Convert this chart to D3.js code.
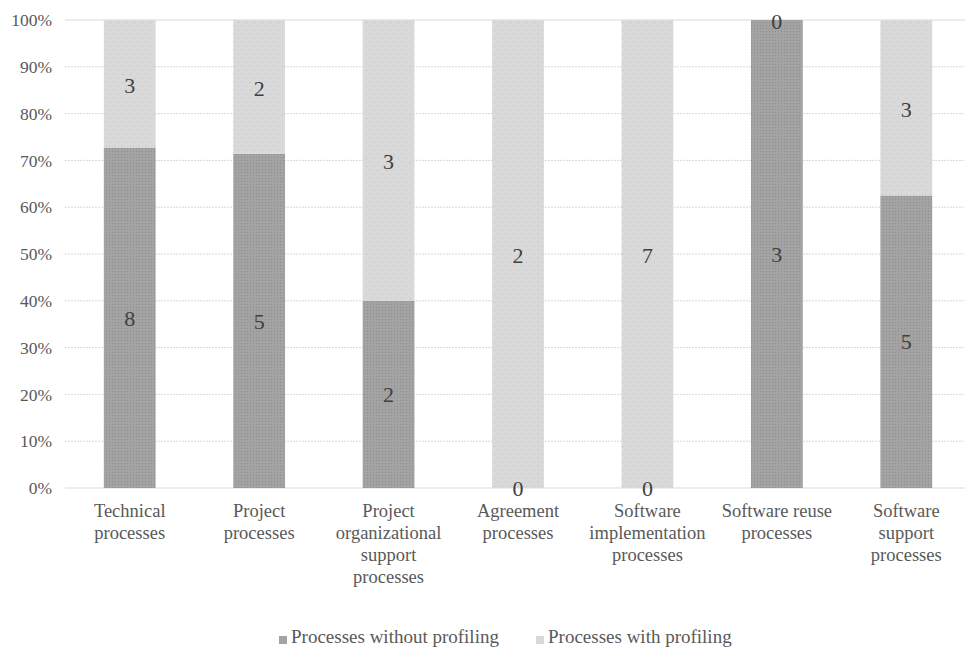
<!DOCTYPE html>
<html><head><meta charset="utf-8">
<script src="https://cdn.jsdelivr.net/npm/d3@7"></script>
<style>body{margin:0;background:#fff}svg{display:block}</style>
</head><body>
<svg id="c" width="965" height="650"></svg>
<script>
const categories = [
  ["Technical","processes"],
  ["Project","processes"],
  ["Project","organizational","support","processes"],
  ["Agreement","processes"],
  ["Software","implementation","processes"],
  ["Software reuse","processes"],
  ["Software","support","processes"]
];
const seriesNames = ["Processes without profiling","Processes with profiling"];
const withoutProfiling = [8,5,2,0,0,3,5];
const withProfiling = [3,2,3,2,7,0,3];
const yTicks = [0,0.1,0.2,0.3,0.4,0.5,0.6,0.7,0.8,0.9,1];

(function(){
const FONT = '"Liberation Serif", "Times New Roman", serif';
const svg = d3.select("#c");
const defs = svg.append("defs");
const p1 = defs.append("pattern").attr("id","pDark").attr("width",3).attr("height",3).attr("patternUnits","userSpaceOnUse");
p1.append("rect").attr("width",3).attr("height",3).attr("fill","#a3a3a3");
p1.append("rect").attr("x",1).attr("y",1).attr("width",1).attr("height",1).attr("fill","#8f8f8f");
const p2 = defs.append("pattern").attr("id","pLight").attr("width",8).attr("height",8).attr("patternUnits","userSpaceOnUse");
p2.append("rect").attr("width",8).attr("height",8).attr("fill","#d9d9d9");
p2.append("rect").attr("x",2).attr("y",2).attr("width",1).attr("height",1).attr("fill","#bdbdbd");
p2.append("rect").attr("x",6).attr("y",6).attr("width",1).attr("height",1).attr("fill","#bdbdbd");

const pl = 65, pr = 971, pt = 20, pb = 488;
const x = d3.scaleBand().domain(d3.range(categories.length)).range([pl,pr]).paddingInner(0.6).paddingOuter(0.3);
const y = d3.scaleLinear().domain([0,1]).range([pb,pt]);

// gridlines
svg.append("g").selectAll("line").data(yTicks).join("line")
  .attr("x1",pl).attr("x2",965).attr("y1",d=>y(d)).attr("y2",d=>y(d))
  .attr("stroke","#d9d9d9").attr("stroke-width",1)
  .attr("stroke-dasharray",d=>(d===0||d===1)?null:"2,1");

// y axis labels
const yAxis = d3.axisLeft(y).tickValues(yTicks).tickFormat(d3.format(".0%")).tickSize(0).tickPadding(13);
const ga = svg.append("g").attr("transform",`translate(${pl},0)`).call(yAxis);
ga.select(".domain").remove();
ga.attr("font-family",null);
ga.selectAll("text").style("font-family",FONT).style("font-size","17.5px").attr("fill","#595959");

const data = categories.map((c,i)=>{
  const t = withoutProfiling[i]+withProfiling[i];
  return {i, a: withoutProfiling[i]/t, b: withProfiling[i]/t, va: withoutProfiling[i], vb: withProfiling[i]};
});

const g = svg.append("g");
g.selectAll("rect.a").data(data).join("rect").attr("class","a")
  .attr("x",d=>x(d.i)).attr("width",x.bandwidth())
  .attr("y",d=>y(d.a)).attr("height",d=>y(0)-y(d.a)).attr("fill","url(#pDark)");
g.selectAll("rect.b").data(data).join("rect").attr("class","b")
  .attr("x",d=>x(d.i)).attr("width",x.bandwidth())
  .attr("y",d=>y(d.a+d.b)).attr("height",d=>y(d.a)-y(d.a+d.b)).attr("fill","url(#pLight)");

// data labels
const lbl = g.append("g").attr("fill","#404040").attr("text-anchor","middle");
const styleLbl = s => s.style("font-family",FONT).style("font-size","22px");
lbl.selectAll("text.a").data(data).join("text").attr("class","a").call(styleLbl)
  .attr("x",d=>x(d.i)+x.bandwidth()/2).attr("y",d=>y(d.a/2)).attr("dy","0.35em").text(d=>d.va);
lbl.selectAll("text.b").data(data).join("text").attr("class","b").call(styleLbl)
  .attr("x",d=>x(d.i)+x.bandwidth()/2).attr("y",d=>y(d.a+d.b/2)).attr("dy","0.4em").text(d=>d.vb);

// category labels
const cl = svg.append("g").attr("fill","#595959").attr("text-anchor","middle");
categories.forEach((lines,i)=>{
  const cx = x(i)+x.bandwidth()/2;
  const t = cl.append("text").attr("x",cx).attr("y",517)
    .style("font-family",FONT).style("font-size","18.5px");
  lines.forEach((ln,j)=>t.append("tspan").attr("x",cx).attr("dy",j?22:0).text(ln));
});

// legend
const leg = svg.append("g").attr("fill","#595959");
const legX = [279, 536];
seriesNames.forEach((n,i)=>{
  leg.append("rect").attr("x",legX[i]).attr("y",636).attr("width",8).attr("height",8).attr("fill",i?"#d9d9d9":"#a3a3a3");
  leg.append("text").attr("x",legX[i]+12).attr("y",643)
    .style("font-family",FONT).style("font-size","19px").text(n);
});
})();
</script>
</body></html>
